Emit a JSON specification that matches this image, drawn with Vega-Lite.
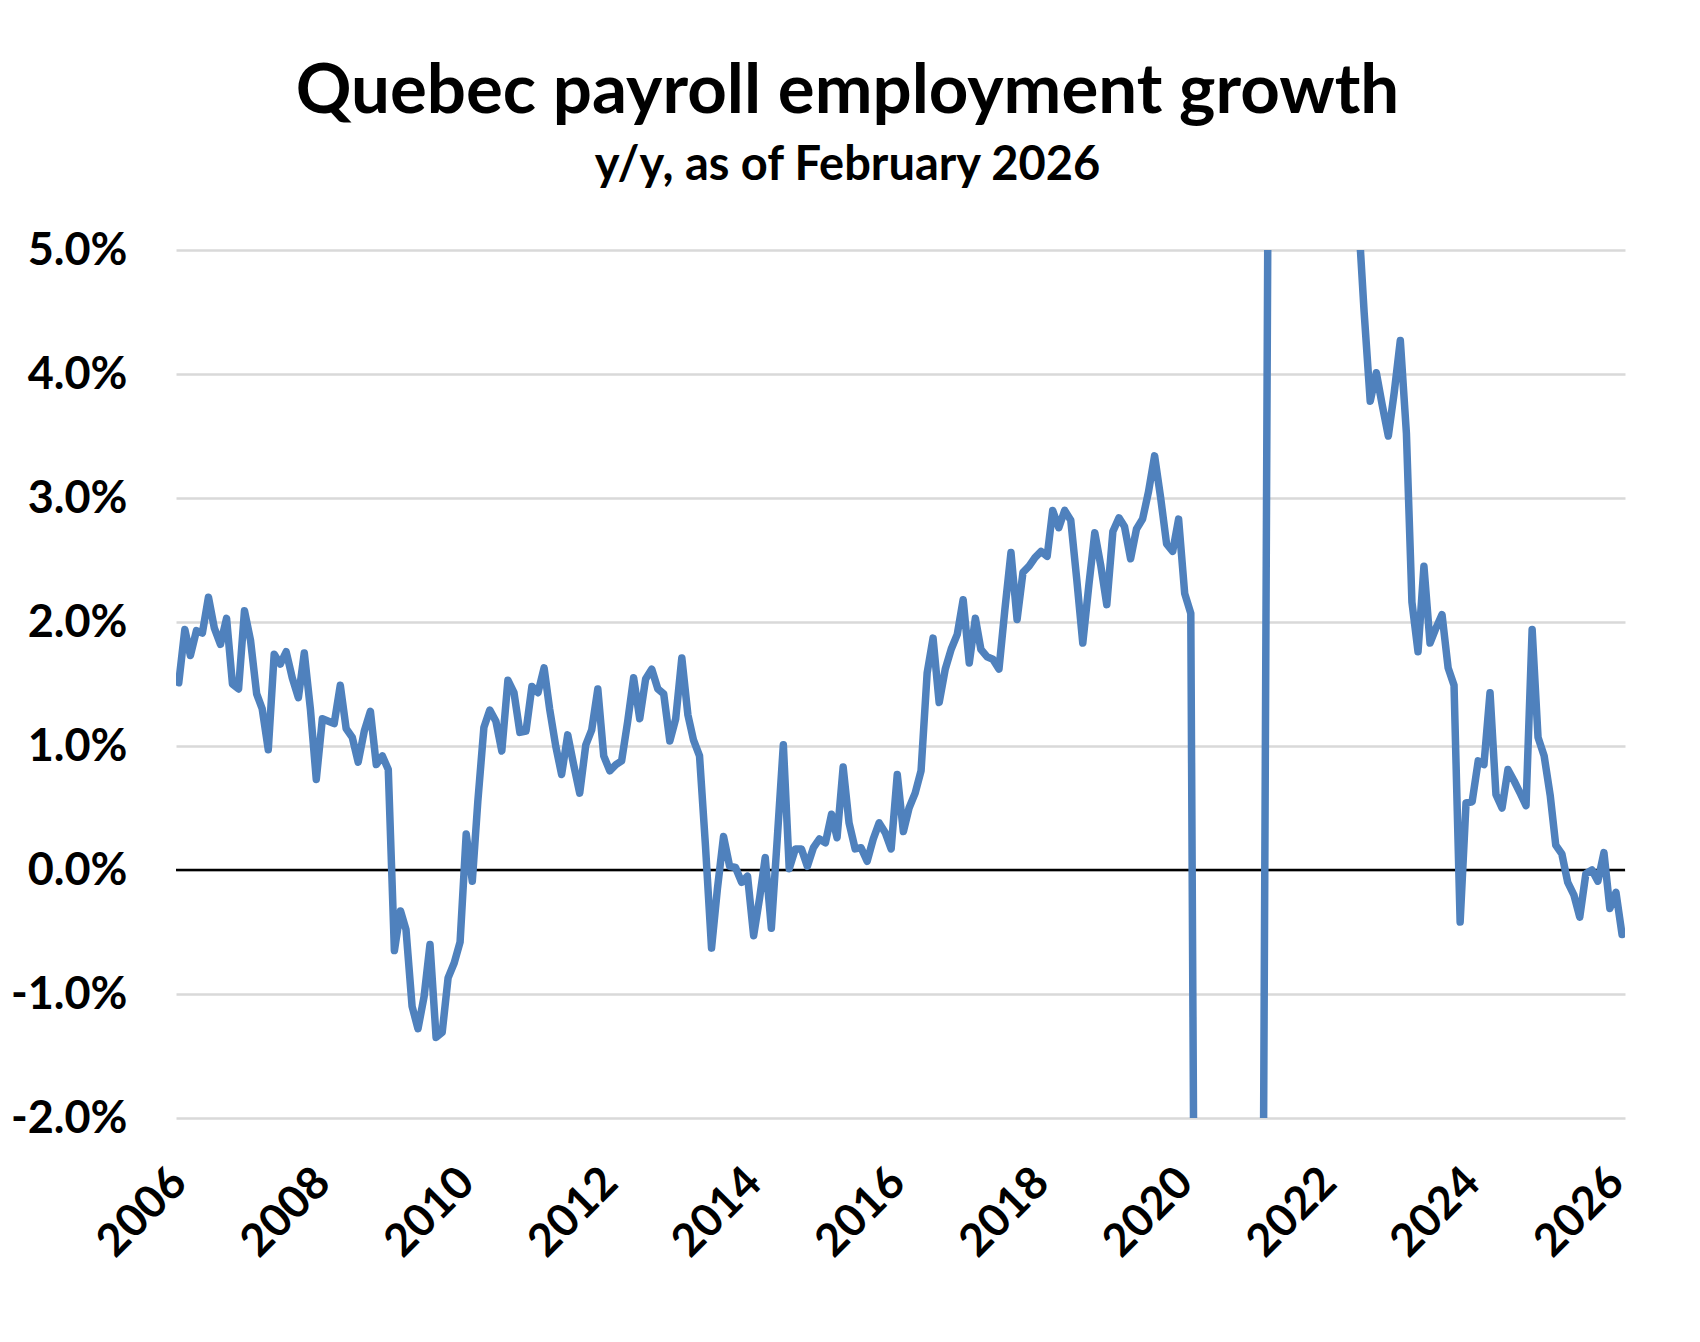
{
  "$schema": "https://vega.github.io/schema/vega-lite/v6.json",
  "description": "Quebec payroll employment growth, y/y, as of February 2026",
  "autosize": {"type": "none"},
  "width": 1449,
  "height": 868,
  "padding": {"left": 176, "top": 250, "right": 75, "bottom": 224},
  "background": "white",
  "title": {
    "text": "Quebec payroll employment growth",
    "subtitle": "y/y, as of February 2026",
    "anchor": "middle",
    "frame": "group",
    "dx": -53,
    "offset": 39,
    "font": "Lato",
    "fontSize": 69,
    "fontWeight": "bold",
    "color": "black",
    "subtitleFont": "Lato",
    "subtitleFontSize": 47,
    "subtitleFontWeight": "bold",
    "subtitleColor": "black",
    "subtitlePadding": 16
  },
  "config": {
    "view": {"stroke": null},
    "axis": {"labelFont": "Lato", "labelFontWeight": "bold", "labelColor": "black", "labelFontSize": 45}
  },
  "data": {
    "values": [
      {"date": "2006-01-01", "growth": 1.51}, {"date": "2006-02-01", "growth": 1.94}, {"date": "2006-03-01", "growth": 1.73}, {"date": "2006-04-01", "growth": 1.93},
      {"date": "2006-05-01", "growth": 1.91}, {"date": "2006-06-01", "growth": 2.20}, {"date": "2006-07-01", "growth": 1.95}, {"date": "2006-08-01", "growth": 1.82},
      {"date": "2006-09-01", "growth": 2.03}, {"date": "2006-10-01", "growth": 1.50}, {"date": "2006-11-01", "growth": 1.46}, {"date": "2006-12-01", "growth": 2.09},
      {"date": "2007-01-01", "growth": 1.85}, {"date": "2007-02-01", "growth": 1.42}, {"date": "2007-03-01", "growth": 1.30}, {"date": "2007-04-01", "growth": 0.97},
      {"date": "2007-05-01", "growth": 1.74}, {"date": "2007-06-01", "growth": 1.66}, {"date": "2007-07-01", "growth": 1.76}, {"date": "2007-08-01", "growth": 1.55},
      {"date": "2007-09-01", "growth": 1.39}, {"date": "2007-10-01", "growth": 1.75}, {"date": "2007-11-01", "growth": 1.30}, {"date": "2007-12-01", "growth": 0.73},
      {"date": "2008-01-01", "growth": 1.22}, {"date": "2008-02-01", "growth": 1.20}, {"date": "2008-03-01", "growth": 1.18}, {"date": "2008-04-01", "growth": 1.49},
      {"date": "2008-05-01", "growth": 1.14}, {"date": "2008-06-01", "growth": 1.07}, {"date": "2008-07-01", "growth": 0.87}, {"date": "2008-08-01", "growth": 1.12},
      {"date": "2008-09-01", "growth": 1.28}, {"date": "2008-10-01", "growth": 0.85}, {"date": "2008-11-01", "growth": 0.92}, {"date": "2008-12-01", "growth": 0.81},
      {"date": "2009-01-01", "growth": -0.65}, {"date": "2009-02-01", "growth": -0.33}, {"date": "2009-03-01", "growth": -0.48}, {"date": "2009-04-01", "growth": -1.10},
      {"date": "2009-05-01", "growth": -1.28}, {"date": "2009-06-01", "growth": -1.02}, {"date": "2009-07-01", "growth": -0.60}, {"date": "2009-08-01", "growth": -1.35},
      {"date": "2009-09-01", "growth": -1.31}, {"date": "2009-10-01", "growth": -0.87}, {"date": "2009-11-01", "growth": -0.75}, {"date": "2009-12-01", "growth": -0.58},
      {"date": "2010-01-01", "growth": 0.29}, {"date": "2010-02-01", "growth": -0.09}, {"date": "2010-03-01", "growth": 0.55}, {"date": "2010-04-01", "growth": 1.15},
      {"date": "2010-05-01", "growth": 1.29}, {"date": "2010-06-01", "growth": 1.20}, {"date": "2010-07-01", "growth": 0.96}, {"date": "2010-08-01", "growth": 1.53},
      {"date": "2010-09-01", "growth": 1.43}, {"date": "2010-10-01", "growth": 1.11}, {"date": "2010-11-01", "growth": 1.12}, {"date": "2010-12-01", "growth": 1.48},
      {"date": "2011-01-01", "growth": 1.43}, {"date": "2011-02-01", "growth": 1.63}, {"date": "2011-03-01", "growth": 1.30}, {"date": "2011-04-01", "growth": 1.00},
      {"date": "2011-05-01", "growth": 0.77}, {"date": "2011-06-01", "growth": 1.09}, {"date": "2011-07-01", "growth": 0.85}, {"date": "2011-08-01", "growth": 0.62},
      {"date": "2011-09-01", "growth": 1.01}, {"date": "2011-10-01", "growth": 1.13}, {"date": "2011-11-01", "growth": 1.46}, {"date": "2011-12-01", "growth": 0.92},
      {"date": "2012-01-01", "growth": 0.80}, {"date": "2012-02-01", "growth": 0.85}, {"date": "2012-03-01", "growth": 0.88}, {"date": "2012-04-01", "growth": 1.20},
      {"date": "2012-05-01", "growth": 1.55}, {"date": "2012-06-01", "growth": 1.22}, {"date": "2012-07-01", "growth": 1.54}, {"date": "2012-08-01", "growth": 1.62},
      {"date": "2012-09-01", "growth": 1.46}, {"date": "2012-10-01", "growth": 1.42}, {"date": "2012-11-01", "growth": 1.04}, {"date": "2012-12-01", "growth": 1.22},
      {"date": "2013-01-01", "growth": 1.71}, {"date": "2013-02-01", "growth": 1.25}, {"date": "2013-03-01", "growth": 1.05}, {"date": "2013-04-01", "growth": 0.92},
      {"date": "2013-05-01", "growth": 0.20}, {"date": "2013-06-01", "growth": -0.63}, {"date": "2013-07-01", "growth": -0.15}, {"date": "2013-08-01", "growth": 0.27},
      {"date": "2013-09-01", "growth": 0.03}, {"date": "2013-10-01", "growth": 0.02}, {"date": "2013-11-01", "growth": -0.10}, {"date": "2013-12-01", "growth": -0.05},
      {"date": "2014-01-01", "growth": -0.53}, {"date": "2014-02-01", "growth": -0.22}, {"date": "2014-03-01", "growth": 0.10}, {"date": "2014-04-01", "growth": -0.47},
      {"date": "2014-05-01", "growth": 0.25}, {"date": "2014-06-01", "growth": 1.01}, {"date": "2014-07-01", "growth": 0.01}, {"date": "2014-08-01", "growth": 0.17},
      {"date": "2014-09-01", "growth": 0.17}, {"date": "2014-10-01", "growth": 0.03}, {"date": "2014-11-01", "growth": 0.18}, {"date": "2014-12-01", "growth": 0.25},
      {"date": "2015-01-01", "growth": 0.22}, {"date": "2015-02-01", "growth": 0.45}, {"date": "2015-03-01", "growth": 0.26}, {"date": "2015-04-01", "growth": 0.83},
      {"date": "2015-05-01", "growth": 0.38}, {"date": "2015-06-01", "growth": 0.17}, {"date": "2015-07-01", "growth": 0.18}, {"date": "2015-08-01", "growth": 0.07},
      {"date": "2015-09-01", "growth": 0.25}, {"date": "2015-10-01", "growth": 0.38}, {"date": "2015-11-01", "growth": 0.30}, {"date": "2015-12-01", "growth": 0.17},
      {"date": "2016-01-01", "growth": 0.77}, {"date": "2016-02-01", "growth": 0.31}, {"date": "2016-03-01", "growth": 0.50}, {"date": "2016-04-01", "growth": 0.62},
      {"date": "2016-05-01", "growth": 0.80}, {"date": "2016-06-01", "growth": 1.59}, {"date": "2016-07-01", "growth": 1.87}, {"date": "2016-08-01", "growth": 1.35},
      {"date": "2016-09-01", "growth": 1.62}, {"date": "2016-10-01", "growth": 1.78}, {"date": "2016-11-01", "growth": 1.90}, {"date": "2016-12-01", "growth": 2.18},
      {"date": "2017-01-01", "growth": 1.67}, {"date": "2017-02-01", "growth": 2.03}, {"date": "2017-03-01", "growth": 1.78}, {"date": "2017-04-01", "growth": 1.72},
      {"date": "2017-05-01", "growth": 1.70}, {"date": "2017-06-01", "growth": 1.62}, {"date": "2017-07-01", "growth": 2.10}, {"date": "2017-08-01", "growth": 2.56},
      {"date": "2017-09-01", "growth": 2.02}, {"date": "2017-10-01", "growth": 2.40}, {"date": "2017-11-01", "growth": 2.45}, {"date": "2017-12-01", "growth": 2.52},
      {"date": "2018-01-01", "growth": 2.57}, {"date": "2018-02-01", "growth": 2.53}, {"date": "2018-03-01", "growth": 2.90}, {"date": "2018-04-01", "growth": 2.76},
      {"date": "2018-05-01", "growth": 2.90}, {"date": "2018-06-01", "growth": 2.82}, {"date": "2018-07-01", "growth": 2.35}, {"date": "2018-08-01", "growth": 1.83},
      {"date": "2018-09-01", "growth": 2.30}, {"date": "2018-10-01", "growth": 2.72}, {"date": "2018-11-01", "growth": 2.45}, {"date": "2018-12-01", "growth": 2.14},
      {"date": "2019-01-01", "growth": 2.73}, {"date": "2019-02-01", "growth": 2.84}, {"date": "2019-03-01", "growth": 2.77}, {"date": "2019-04-01", "growth": 2.51},
      {"date": "2019-05-01", "growth": 2.75}, {"date": "2019-06-01", "growth": 2.83}, {"date": "2019-07-01", "growth": 3.05}, {"date": "2019-08-01", "growth": 3.34},
      {"date": "2019-09-01", "growth": 3.00}, {"date": "2019-10-01", "growth": 2.63}, {"date": "2019-11-01", "growth": 2.57}, {"date": "2019-12-01", "growth": 2.83},
      {"date": "2020-01-01", "growth": 2.23}, {"date": "2020-02-01", "growth": 2.07}, {"date": "2020-03-01", "growth": -6.5}, {"date": "2020-04-01", "growth": -18.0},
      {"date": "2020-05-01", "growth": -15.0}, {"date": "2020-06-01", "growth": -9.0}, {"date": "2020-07-01", "growth": -6.0}, {"date": "2020-08-01", "growth": -5.0},
      {"date": "2020-09-01", "growth": -4.5}, {"date": "2020-10-01", "growth": -4.0}, {"date": "2020-11-01", "growth": -4.0}, {"date": "2020-12-01", "growth": -4.5},
      {"date": "2021-01-01", "growth": -5.5}, {"date": "2021-02-01", "growth": -3.4}, {"date": "2021-03-01", "growth": 6.0}, {"date": "2021-04-01", "growth": 21.0},
      {"date": "2021-05-01", "growth": 18.0}, {"date": "2021-06-01", "growth": 11.0}, {"date": "2021-07-01", "growth": 7.5}, {"date": "2021-08-01", "growth": 6.5},
      {"date": "2021-09-01", "growth": 6.5}, {"date": "2021-10-01", "growth": 6.0}, {"date": "2021-11-01", "growth": 6.0}, {"date": "2021-12-01", "growth": 6.5},
      {"date": "2022-01-01", "growth": 7.0}, {"date": "2022-02-01", "growth": 8.0}, {"date": "2022-03-01", "growth": 7.0}, {"date": "2022-04-01", "growth": 6.5},
      {"date": "2022-05-01", "growth": 6.0}, {"date": "2022-06-01", "growth": 5.3}, {"date": "2022-07-01", "growth": 4.5}, {"date": "2022-08-01", "growth": 3.78},
      {"date": "2022-09-01", "growth": 4.01}, {"date": "2022-10-01", "growth": 3.75}, {"date": "2022-11-01", "growth": 3.50}, {"date": "2022-12-01", "growth": 3.85},
      {"date": "2023-01-01", "growth": 4.27}, {"date": "2023-02-01", "growth": 3.52}, {"date": "2023-03-01", "growth": 2.16}, {"date": "2023-04-01", "growth": 1.76},
      {"date": "2023-05-01", "growth": 2.45}, {"date": "2023-06-01", "growth": 1.83}, {"date": "2023-07-01", "growth": 1.95}, {"date": "2023-08-01", "growth": 2.06},
      {"date": "2023-09-01", "growth": 1.63}, {"date": "2023-10-01", "growth": 1.49}, {"date": "2023-11-01", "growth": -0.42}, {"date": "2023-12-01", "growth": 0.54},
      {"date": "2024-01-01", "growth": 0.55}, {"date": "2024-02-01", "growth": 0.88}, {"date": "2024-03-01", "growth": 0.85}, {"date": "2024-04-01", "growth": 1.43},
      {"date": "2024-05-01", "growth": 0.61}, {"date": "2024-06-01", "growth": 0.50}, {"date": "2024-07-01", "growth": 0.81}, {"date": "2024-08-01", "growth": 0.72},
      {"date": "2024-09-01", "growth": 0.62}, {"date": "2024-10-01", "growth": 0.52}, {"date": "2024-11-01", "growth": 1.94}, {"date": "2024-12-01", "growth": 1.07},
      {"date": "2025-01-01", "growth": 0.92}, {"date": "2025-02-01", "growth": 0.60}, {"date": "2025-03-01", "growth": 0.20}, {"date": "2025-04-01", "growth": 0.13},
      {"date": "2025-05-01", "growth": -0.10}, {"date": "2025-06-01", "growth": -0.20}, {"date": "2025-07-01", "growth": -0.38}, {"date": "2025-08-01", "growth": -0.03},
      {"date": "2025-09-01", "growth": 0.00}, {"date": "2025-10-01", "growth": -0.09}, {"date": "2025-11-01", "growth": 0.14}, {"date": "2025-12-01", "growth": -0.31},
      {"date": "2026-01-01", "growth": -0.18}, {"date": "2026-02-01", "growth": -0.52}
    ]
  },
  "layer": [
    {
      "data": {"values": [{}]},
      "mark": {"type": "rule", "color": "black", "strokeWidth": 2.5},
      "encoding": {"y": {"datum": 0, "type": "quantitative"}}
    },
    {
      "mark": {"type": "line", "color": "#4f81bd", "strokeWidth": 7.5, "strokeJoin": "round", "strokeCap": "round", "clip": true},
      "encoding": {
        "x": {
          "field": "date",
          "type": "temporal",
          "scale": {
            "type": "utc",
            "domain": [
              {"year": 2005, "month": 12, "date": 18, "utc": true},
              {"year": 2026, "month": 2, "date": 16, "utc": true}
            ]
          },
          "axis": {
            "title": null,
            "values": [
              {"year": 2006, "utc": true}, {"year": 2008, "utc": true}, {"year": 2010, "utc": true},
              {"year": 2012, "utc": true}, {"year": 2014, "utc": true}, {"year": 2016, "utc": true},
              {"year": 2018, "utc": true}, {"year": 2020, "utc": true}, {"year": 2022, "utc": true},
              {"year": 2024, "utc": true}, {"year": 2026, "utc": true}
            ],
            "format": "%Y",
            "formatType": "utc",
            "labelAngle": -45,
            "labelAlign": "right",
            "labelBaseline": "middle",
            "labelPadding": 57,
            "labelFlush": false,
            "labelBound": false,
            "labelOverlap": false,
            "ticks": false,
            "domain": false,
            "grid": false
          }
        },
        "y": {
          "field": "growth",
          "type": "quantitative",
          "scale": {"domain": [-2, 5], "nice": false, "zero": false},
          "axis": {
            "title": null,
            "values": [-2, -1, 0, 1, 2, 3, 4, 5],
            "labelExpr": "(datum.value < 0 ? '-' : '') + format(abs(datum.value), '.1f') + '%'",
            "labelPadding": 49,
            "ticks": false,
            "domain": false,
            "grid": true,
            "gridColor": "#d9d9d9",
            "gridWidth": 2.5
          }
        }
      }
    }
  ]
}
